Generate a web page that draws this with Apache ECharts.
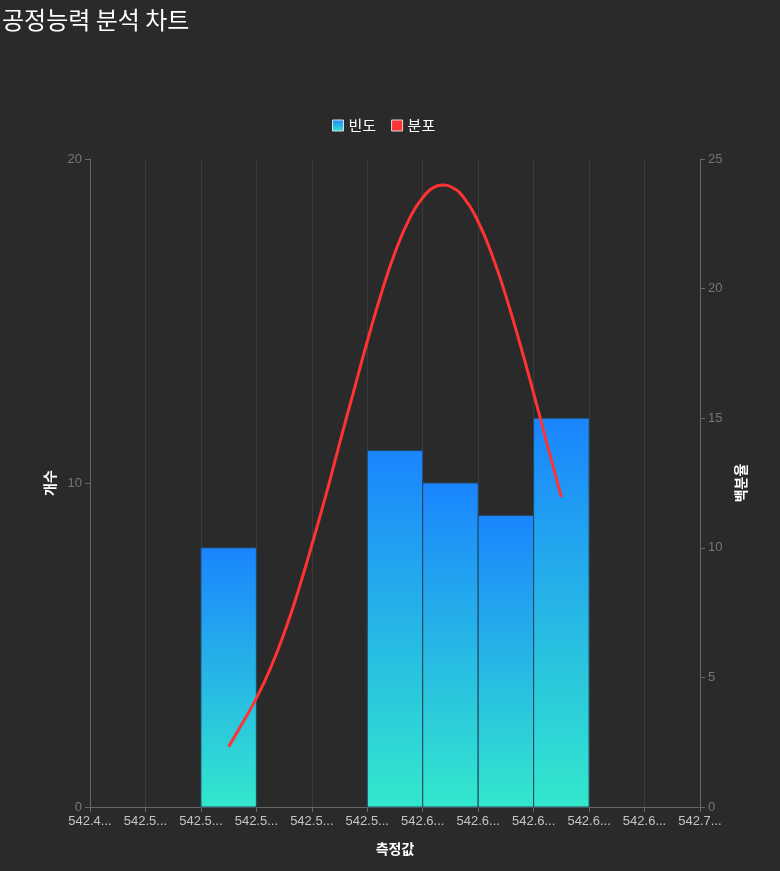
<!DOCTYPE html>
<html>
<head>
<meta charset="utf-8">
<script src="https://cdn.jsdelivr.net/npm/echarts@6/dist/echarts.min.js"></script>
<style>
html,body{margin:0;padding:0;background:#2a2a2a;}
#chart{width:780px;height:871px;}
</style>
</head>
<body>
<div id="chart"></div>
<script>
// bin edges (measured value) and counts per bin
var binEdges = [542.4862, 542.5070, 542.5278, 542.5486, 542.5694, 542.5902, 542.6110, 542.6318, 542.6526, 542.6734, 542.6942, 542.7150];
var binCounts = [0, 0, 8, 0, 0, 11, 10, 9, 12, 0, 0];
// fitted distribution (percent), position in bin units
var distPos = [2.5, 2.75, 3.0, 3.25, 3.5, 3.75, 4.0, 4.25, 4.5, 4.75, 5.0, 5.25, 5.5,
               5.75, 6.0, 6.25, 6.37, 6.5, 6.75, 7.0, 7.25, 7.5, 7.75, 8.0, 8.25, 8.5];
var distPercent = [2.33, 3.24, 4.2, 5.33, 6.7, 8.3, 10.1, 12.0, 14.02, 16.0, 17.96, 19.79, 21.39,
                   22.65, 23.51, 23.95, 24.0, 23.94, 23.48, 22.58, 21.3, 19.71, 17.9, 15.96, 13.94, 11.96];

var chart = echarts.init(document.getElementById('chart'));

var barData = [];
for (var i = 0; i < binCounts.length; i++) {
    if (binCounts[i] > 0) barData.push([i, binCounts[i]]);
}
var lineData = [];
for (var j = 0; j < distPos.length; j++) {
    lineData.push([distPos[j], distPercent[j]]);
}

var barGradient = new echarts.graphic.LinearGradient(0, 0, 0, 1, [
    {offset: 0, color: '#1a85ff'},
    {offset: 1, color: '#33e8cc'}
]);

function renderBin(params, api) {
    var idx = api.value(0);
    var p0 = api.coord([idx, 0]);
    var p1 = api.coord([idx + 1, api.value(1)]);
    return {
        type: 'rect',
        shape: {x: p0[0], y: p1[1], width: p1[0] - p0[0], height: p0[1] - p1[1]},
        style: api.style({stroke: '#24445c', lineWidth: 1})
    };
}

var option = {
    backgroundColor: '#2a2a2a',
    title: {
        text: '공정능력 분석 차트',
        left: 0,
        top: 0,
        padding: [8, 5, 5, 2],
        textStyle: {color: '#ffffff', fontSize: 24, fontWeight: 'normal', fontFamily: 'Noto Sans CJK KR'}
    },
    legend: {
        top: 113,
        left: 327,
        itemWidth: 11,
        itemHeight: 11,
        itemGap: 15,
        textStyle: {color: '#ffffff', fontSize: 15, fontFamily: 'Noto Sans CJK KR'},
        itemStyle: {borderColor: '#dddddd', borderWidth: 1},
        data: [{name: '빈도', icon: 'rect'}, {name: '분포', icon: 'rect'}]
    },
    grid: {left: 90, right: 80, top: 159, bottom: 64},
    xAxis: {
        type: 'value',
        min: 0,
        max: binEdges.length - 1,
        interval: 1,
        name: '측정값',
        nameLocation: 'middle',
        nameGap: 35,
        nameTextStyle: {color: '#ffffff', fontSize: 14, fontWeight: 'bold', fontFamily: 'Noto Sans CJK KR'},
        axisLine: {lineStyle: {color: '#666666'}},
        axisTick: {show: true, lineStyle: {color: '#666666'}},
        axisLabel: {
            color: '#c4c4c4',
            fontSize: 13,
            formatter: function (v) { return binEdges[v].toFixed(4).slice(0, 5) + '...'; }
        },
        splitLine: {show: true, lineStyle: {color: '#3c3c3c'}}
    },
    yAxis: [
        {
            type: 'value',
            min: 0,
            max: 20,
            interval: 10,
            name: '개수',
            nameLocation: 'middle',
            nameGap: 30,
            nameTextStyle: {color: '#ffffff', fontSize: 14, fontWeight: 'bold', fontFamily: 'Noto Sans CJK KR'},
            axisLine: {show: true, lineStyle: {color: '#666666'}},
            axisTick: {show: true, lineStyle: {color: '#666666'}},
            axisLabel: {color: '#777777', fontSize: 13},
            splitLine: {show: false}
        },
        {
            type: 'value',
            min: 0,
            max: 25,
            interval: 5,
            name: '백분율',
            nameLocation: 'middle',
            nameGap: 32,
            nameTextStyle: {color: '#ffffff', fontSize: 14, fontWeight: 'bold', fontFamily: 'Noto Sans CJK KR'},
            axisLine: {show: true, lineStyle: {color: '#666666'}},
            axisTick: {show: true, lineStyle: {color: '#666666'}},
            axisLabel: {color: '#777777', fontSize: 13},
            splitLine: {show: false}
        }
    ],
    series: [
        {
            name: '빈도',
            type: 'custom',
            yAxisIndex: 0,
            itemStyle: {color: barGradient},
            renderItem: renderBin,
            encode: {x: 0, y: 1},
            data: barData
        },
        {
            name: '분포',
            type: 'line',
            yAxisIndex: 1,
            smooth: true,
            showSymbol: false,
            symbol: 'none',
            itemStyle: {color: '#ff3333'},
            lineStyle: {color: '#ff3333', width: 3},
            data: lineData
        }
    ]
};
chart.setOption(option);
</script>
</body>
</html>
